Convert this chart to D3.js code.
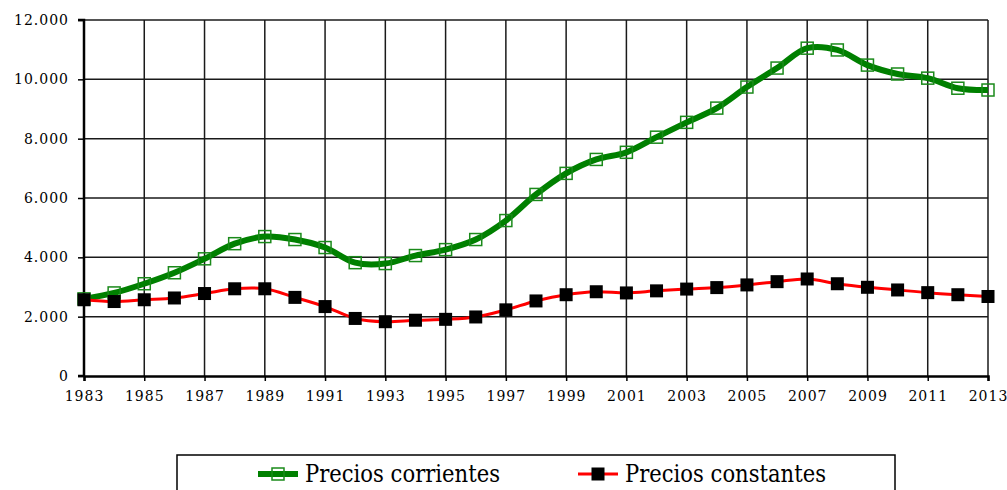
<!DOCTYPE html>
<html>
<head>
<meta charset="utf-8">
<script src="https://cdn.jsdelivr.net/npm/d3@7"></script>
<style>
  body { margin: 0; background: #fff; }
  svg { display: block; }
  .serif { font-family: "DejaVu Serif", "Liberation Serif", serif; }
</style>
</head>
<body>
<div id="chart"></div>
<script>
// Data
const years = d3.range(1983, 2014);
const corrientes = [2600, 2800, 3110, 3480, 3950, 4460, 4700, 4600, 4330, 3820,
  3790, 4060, 4260, 4600, 5240, 6120, 6830, 7300, 7540, 8050,
  8550, 9030, 9740, 10380, 11050, 10990, 10480, 10180, 10040, 9700, 9640];
const constantes = [2570, 2510, 2570, 2630, 2780, 2940, 2940, 2650, 2340, 1940,
  1830, 1880, 1910, 1990, 2230, 2530, 2740, 2840, 2800, 2870,
  2930, 2980, 3070, 3180, 3270, 3110, 2990, 2900, 2810, 2740, 2680];
const yTicks = [0, 2000, 4000, 6000, 8000, 10000, 12000];
const xTicks = d3.range(1983, 2014, 2);
const seriesNames = ["Precios corrientes", "Precios constantes"];

const width = 1007, height = 490;
const svg = d3.select("#chart").append("svg")
    .attr("width", width)
    .attr("height", height);

const x = d3.scaleLinear().domain([1983, 2013]).range([84, 988]);
const y = d3.scaleLinear().domain([0, 12000]).range([376, 20]);

const locale = d3.formatLocale({ decimal: ",", thousands: ".", grouping: [3], currency: ["", ""] });
const fmt = locale.format(",");

// grid lines
svg.append("g").selectAll("line.h")
    .data(yTicks.filter(d => d > 0))
    .join("line")
    .attr("x1", x(1983)).attr("x2", x(2013))
    .attr("y1", d => y(d)).attr("y2", d => y(d))
    .style("stroke", "#1a1a1a").style("stroke-width", 1.5);

svg.append("g").selectAll("line.v")
    .data(xTicks.filter(d => d > 1983))
    .join("line")
    .attr("x1", d => x(d)).attr("x2", d => x(d))
    .attr("y1", y(12000)).attr("y2", y(0))
    .style("stroke", "#1a1a1a").style("stroke-width", 1.5);

// axes
const yAxis = svg.append("g")
    .attr("transform", `translate(${x(1983)},0)`)
    .call(d3.axisLeft(y).tickValues(yTicks).tickFormat(fmt).tickSize(6).tickPadding(9));
const xAxis = svg.append("g")
    .attr("transform", `translate(0,${y(0)})`)
    .call(d3.axisBottom(x).tickValues(xTicks).tickFormat(d3.format("d")).tickSize(5).tickPadding(10));

[yAxis, xAxis].forEach(a => {
    a.attr("font-family", null).attr("font-size", null).attr("class", "serif");
    a.select(".domain").style("stroke", "#000").style("stroke-width", 2.5);
    a.selectAll(".tick line").style("stroke", "#000").style("stroke-width", 1.5);
    a.selectAll(".tick text")
        .attr("font-size", 14)
        .attr("letter-spacing", 1)
        .attr("fill", "#000");
});
yAxis.select(".domain").attr("d", `M-6,${y(12000)}H0V${y(0)}H-6`);

const line = d3.line()
    .x((d, i) => x(years[i]))
    .y(d => y(d))
    .curve(d3.curveCatmullRom.alpha(0.5));

// Precios corrientes
svg.append("path")
    .datum(corrientes)
    .attr("d", line)
    .style("fill", "none")
    .style("stroke", "#008000")
    .style("stroke-width", 6);

svg.append("g").selectAll("rect")
    .data(corrientes)
    .join("rect")
    .attr("x", (d, i) => x(years[i]) - 6)
    .attr("y", d => y(d) - 6)
    .attr("width", 12).attr("height", 12)
    .style("fill", "none")
    .style("stroke", "#1a8a1a")
    .style("stroke-width", 1.5);

// Precios constantes
svg.append("path")
    .datum(constantes)
    .attr("d", line)
    .style("fill", "none")
    .style("stroke", "#ff0000")
    .style("stroke-width", 3);

svg.append("g").selectAll("rect")
    .data(constantes)
    .join("rect")
    .attr("x", (d, i) => x(years[i]) - 6.5)
    .attr("y", d => y(d) - 6.5)
    .attr("width", 13).attr("height", 13)
    .style("fill", "#000");

// legend
const legend = svg.append("g");
legend.append("rect")
    .attr("x", 177).attr("y", 455)
    .attr("width", 718).attr("height", 50)
    .style("fill", "#fff")
    .style("stroke", "#000")
    .style("stroke-width", 1.5);

const legendItems = [
    { name: seriesNames[0], x0: 258, tx: 305, tw: 195, color: "#008000", sw: 6, mark: "open" },
    { name: seriesNames[1], x0: 578, tx: 625, tw: 201, color: "#ff0000", sw: 3, mark: "filled" }
];
legendItems.forEach(it => {
    legend.append("line")
        .attr("x1", it.x0).attr("x2", it.x0 + 40)
        .attr("y1", 474).attr("y2", 474)
        .style("stroke", it.color).style("stroke-width", it.sw);
    if (it.mark === "open") {
        legend.append("rect")
            .attr("x", it.x0 + 14).attr("y", 468).attr("width", 12).attr("height", 12)
            .style("fill", "none").style("stroke", "#1a8a1a").style("stroke-width", 1.5);
    } else {
        legend.append("rect")
            .attr("x", it.x0 + 13.5).attr("y", 467.5).attr("width", 13).attr("height", 13)
            .style("fill", "#000");
    }
    legend.append("text")
        .attr("class", "serif")
        .attr("x", it.tx).attr("y", 482)
        .attr("textLength", it.tw)
        .attr("lengthAdjust", "spacingAndGlyphs")
        .attr("font-family", "Liberation Serif")
        .attr("font-size", 25)
        .attr("fill", "#000")
        .text(it.name);
});
</script>
</body>
</html>
